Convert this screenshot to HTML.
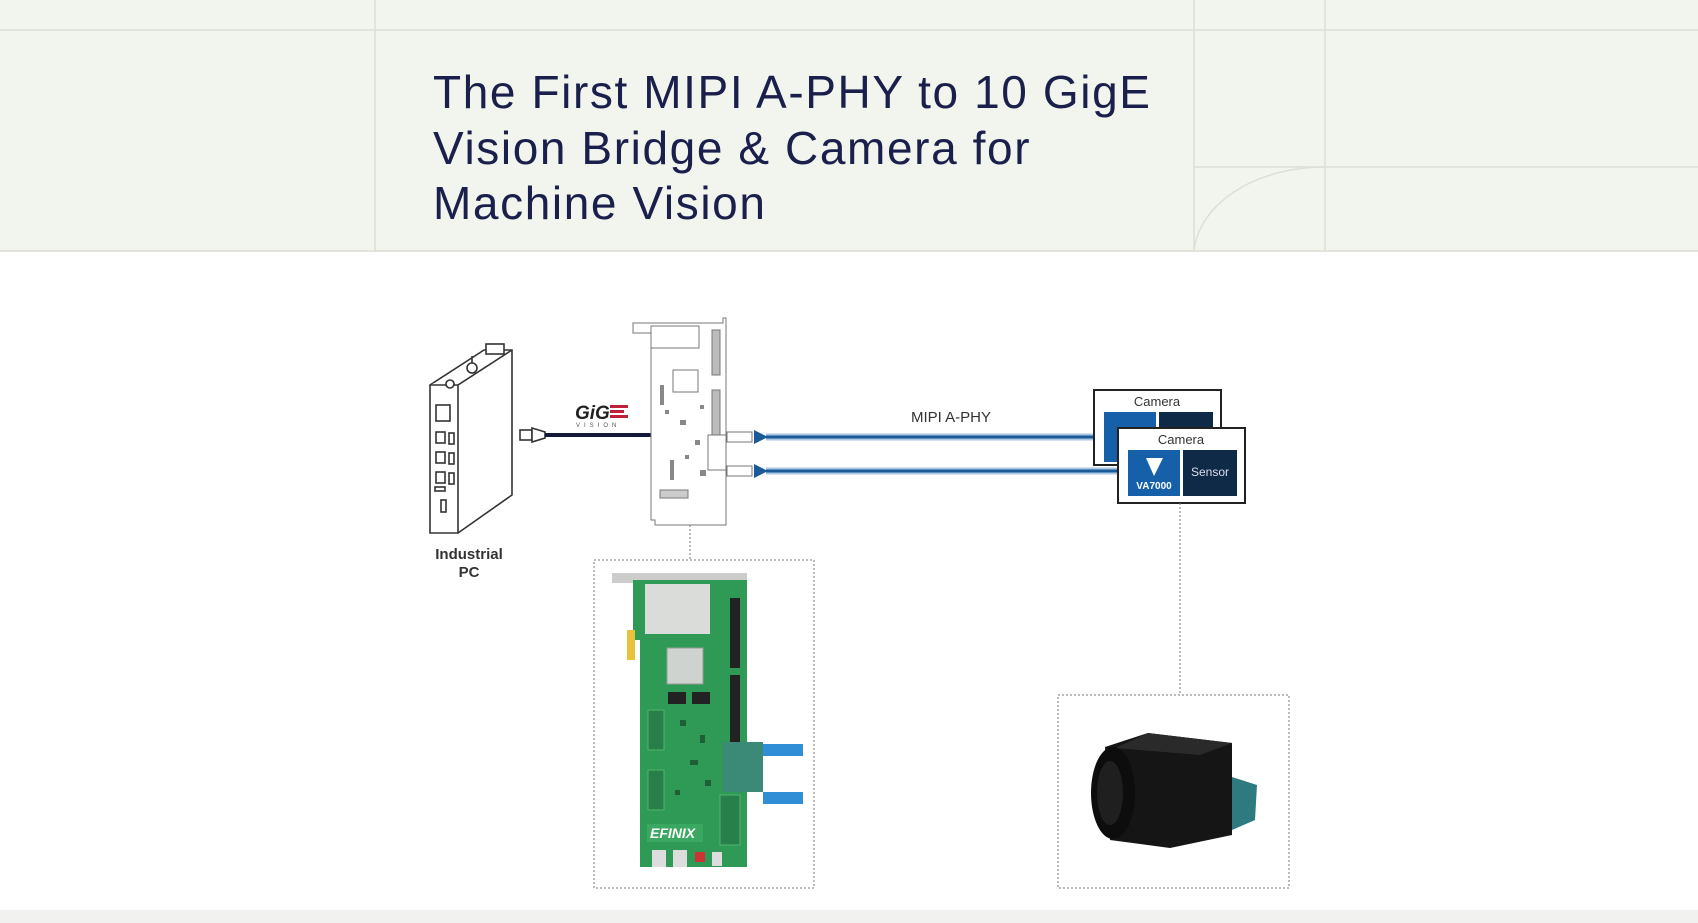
<!DOCTYPE html>
<html><head><meta charset="utf-8"><style>
html,body{margin:0;padding:0;background:#fff;}
body{width:1698px;height:923px;position:relative;overflow:hidden;font-family:"Liberation Sans",sans-serif;}
</style></head><body>
<svg width="1698" height="923" viewBox="0 0 1698 923" xmlns="http://www.w3.org/2000/svg" style="position:absolute;left:0;top:0">
<defs>
<marker id="ar" markerWidth="14" markerHeight="14" refX="2" refY="7" orient="auto" markerUnits="userSpaceOnUse"><path d="M14,0 L0,7 L14,14 z" fill="#1b5a98"/></marker>
</defs>
<!-- header -->
<rect x="0" y="0" width="1698" height="252" fill="#f2f4ee"/>
<line x1="0" y1="30" x2="1698" y2="30" stroke="#dcdfd6" stroke-width="1.5"/>
<line x1="0" y1="251" x2="1698" y2="251" stroke="#dcdfd6" stroke-width="1.5"/>
<line x1="375" y1="0" x2="375" y2="252" stroke="#dcdfd6" stroke-width="1.5"/>
<line x1="1194" y1="0" x2="1194" y2="252" stroke="#dcdfd6" stroke-width="1.5"/>
<line x1="1325" y1="0" x2="1325" y2="252" stroke="#dcdfd6" stroke-width="1.5"/>
<line x1="1194" y1="167" x2="1698" y2="167" stroke="#dcdfd6" stroke-width="1.5"/>
<path d="M1194,252 A130,90 0 0 1 1325,167" fill="none" stroke="#dcdfd6" stroke-width="1.5"/>
<text font-family="Liberation Sans, sans-serif" font-size="46" fill="#1a1f4b" letter-spacing="1.6">
<tspan x="433" y="108">The First MIPI A-PHY to 10 GigE</tspan>
<tspan x="433" y="164">Vision Bridge &amp; Camera for</tspan>
<tspan x="433" y="219">Machine Vision</tspan>
</text>
<rect x="0" y="910" width="1698" height="13" fill="#f1f2ef"/>

<!-- Industrial PC -->
<g stroke="#333" stroke-width="1.6" fill="#fff">
<path d="M430,385 L484,350 L512,350 L512,495 L458,533 L430,533 Z"/>
<path d="M430,385 L458,385 L512,350"/>
<line x1="458" y1="385" x2="458" y2="533"/>
<rect x="486" y="344" width="18" height="10"/>
<circle cx="472" cy="368" r="5"/><line x1="472" y1="356" x2="472" y2="363"/>
<circle cx="450" cy="384" r="4"/>
<rect x="436" y="405" width="14" height="16"/>
<rect x="436" y="432" width="9" height="11"/><rect x="449" y="433" width="5" height="11"/>
<rect x="436" y="452" width="9" height="11"/><rect x="449" y="453" width="5" height="11"/>
<rect x="436" y="472" width="9" height="11"/><rect x="449" y="473" width="5" height="11"/>
<rect x="435" y="487" width="10" height="4"/>
<rect x="441" y="500" width="5" height="12"/>
<rect x="520" y="430" width="12" height="10"/><path d="M532,428 L545,432 L545,438 L532,442 Z"/>
</g>
<text x="469" y="559" text-anchor="middle" font-size="15" font-weight="bold" fill="#333">Industrial</text>
<text x="469" y="577" text-anchor="middle" font-size="15" font-weight="bold" fill="#333">PC</text>
<line x1="545" y1="435" x2="653" y2="435" stroke="#12193a" stroke-width="4"/>
<text x="575" y="419" font-size="19" font-weight="bold" font-style="italic" fill="#222">GiG</text>
<rect x="610" y="405" width="18" height="3" fill="#c0203a"/><rect x="610" y="410" width="14" height="3" fill="#c0203a"/><rect x="610" y="415" width="18" height="3" fill="#c0203a"/>
<text x="576" y="427" font-size="6" fill="#555" letter-spacing="4">VISION</text>

<!-- bridge board sketch -->
<g stroke="#777" stroke-width="1" fill="#fff">
<path d="M633,323 L723,323 L723,318 L726,318 L726,525 L655,525 L655,520 L651,520 L651,333 L633,333 Z"/>
<rect x="651" y="326" width="48" height="22"/>
<rect x="673" y="370" width="25" height="22"/>
<rect x="712" y="330" width="8" height="45" fill="#bbb"/>
<rect x="712" y="390" width="8" height="45" fill="#bbb"/>
<rect x="708" y="435" width="18" height="35"/>
<rect x="660" y="490" width="28" height="8" fill="#ccc"/>
<rect x="727" y="432" width="25" height="10"/><rect x="727" y="466" width="25" height="10"/>
</g>
<g fill="#888">
<rect x="665" y="410" width="4" height="4"/><rect x="680" y="420" width="6" height="5"/><rect x="695" y="440" width="5" height="5"/>
<rect x="670" y="460" width="4" height="20"/><rect x="700" y="470" width="6" height="6"/><rect x="685" y="455" width="4" height="4"/>
<rect x="660" y="385" width="4" height="20"/><rect x="700" y="405" width="4" height="4"/>
</g>

<!-- arrows -->
<line x1="1094" y1="437" x2="766" y2="437" stroke="#a9c6e3" stroke-width="7"/>
<line x1="1094" y1="437" x2="766" y2="437" stroke="#1b5a98" stroke-width="3" marker-end="url(#ar)"/>
<line x1="1118" y1="471" x2="766" y2="471" stroke="#a9c6e3" stroke-width="7"/>
<line x1="1118" y1="471" x2="766" y2="471" stroke="#1b5a98" stroke-width="3" marker-end="url(#ar)"/>
<text x="951" y="422" text-anchor="middle" font-size="15" fill="#333">MIPI A-PHY</text>

<!-- cameras -->
<rect x="1094" y="390" width="127" height="75" fill="#fff" stroke="#222" stroke-width="2"/>
<text x="1157" y="406" text-anchor="middle" font-size="13" fill="#333">Camera</text>
<rect x="1104" y="412" width="52" height="50" fill="#1560a8"/>
<rect x="1159" y="412" width="54" height="50" fill="#0e2a47"/>
<rect x="1118" y="428" width="127" height="75" fill="#fff" stroke="#222" stroke-width="2"/>
<text x="1181" y="444" text-anchor="middle" font-size="13" fill="#333">Camera</text>
<rect x="1128" y="450" width="52" height="46" fill="#1560a8"/>
<rect x="1183" y="450" width="54" height="46" fill="#0e2a47"/>
<path d="M1146,458 L1163,458 L1154,476 Z" fill="#fff"/>
<text x="1154" y="489" text-anchor="middle" font-size="10" font-weight="bold" fill="#fff">VA7000</text>
<text x="1210" y="476" text-anchor="middle" font-size="12" fill="#dde">Sensor</text>

<!-- dotted connectors -->
<g stroke="#777" stroke-width="1" stroke-dasharray="2,2" fill="none">
<line x1="690" y1="525" x2="690" y2="560"/>
<line x1="1180" y1="503" x2="1180" y2="695"/>
<rect x="594" y="560" width="220" height="328"/>
<rect x="1058" y="695" width="231" height="193"/>
</g>

<!-- Efinix board -->
<rect x="612" y="573" width="135" height="10" fill="#ccc"/>
<path d="M633,580 L747,580 L747,867 L640,867 L640,640 L633,640 Z" fill="#2f9a55"/>
<rect x="627" y="630" width="8" height="30" fill="#e8c23a"/>
<rect x="645" y="584" width="65" height="50" fill="#d9dcd8"/>
<rect x="667" y="648" width="36" height="36" fill="#cfd3cf" stroke="#999"/>
<rect x="730" y="598" width="10" height="70" fill="#222"/>
<rect x="730" y="675" width="10" height="75" fill="#222"/>
<rect x="668" y="692" width="18" height="12" fill="#222"/><rect x="692" y="692" width="18" height="12" fill="#222"/>
<rect x="648" y="710" width="16" height="40" fill="#27804a" stroke="#4fb46f"/>
<rect x="648" y="770" width="16" height="40" fill="#27804a" stroke="#4fb46f"/>
<rect x="720" y="795" width="20" height="50" fill="#27804a" stroke="#4fb46f"/>
<rect x="723" y="742" width="40" height="50" fill="#3b8a77"/>
<rect x="763" y="744" width="40" height="12" fill="#2f8ed6"/>
<rect x="763" y="792" width="40" height="12" fill="#2f8ed6"/>
<rect x="647" y="824" width="56" height="18" fill="#3aa860"/>
<text x="650" y="838" font-size="14" font-weight="bold" font-style="italic" fill="#fff">EFINIX</text>
<rect x="652" y="850" width="14" height="17" fill="#ddd"/><rect x="673" y="850" width="14" height="17" fill="#ddd"/><rect x="695" y="852" width="10" height="10" fill="#c33"/><rect x="712" y="852" width="10" height="14" fill="#ddd"/>
<g fill="#1f5f36"><rect x="680" y="720" width="6" height="6"/><rect x="700" y="735" width="5" height="8"/><rect x="690" y="760" width="8" height="5"/><rect x="705" y="780" width="6" height="6"/><rect x="675" y="790" width="5" height="5"/></g>

<!-- camera photo -->
<path d="M1105,747 L1148,733 L1232,743 L1232,835 L1170,848 L1110,840 Z" fill="#151515"/>
<path d="M1148,733 L1232,743 L1200,755 L1115,748 Z" fill="#2a2a2a"/>
<ellipse cx="1113" cy="793" rx="22" ry="46" fill="#0d0d0d"/>
<ellipse cx="1110" cy="793" rx="13" ry="32" fill="#1f1f1f"/>
<path d="M1232,777 L1257,785 L1255,820 L1232,830 Z" fill="#2e7a7e"/>
</svg>
</body></html>
